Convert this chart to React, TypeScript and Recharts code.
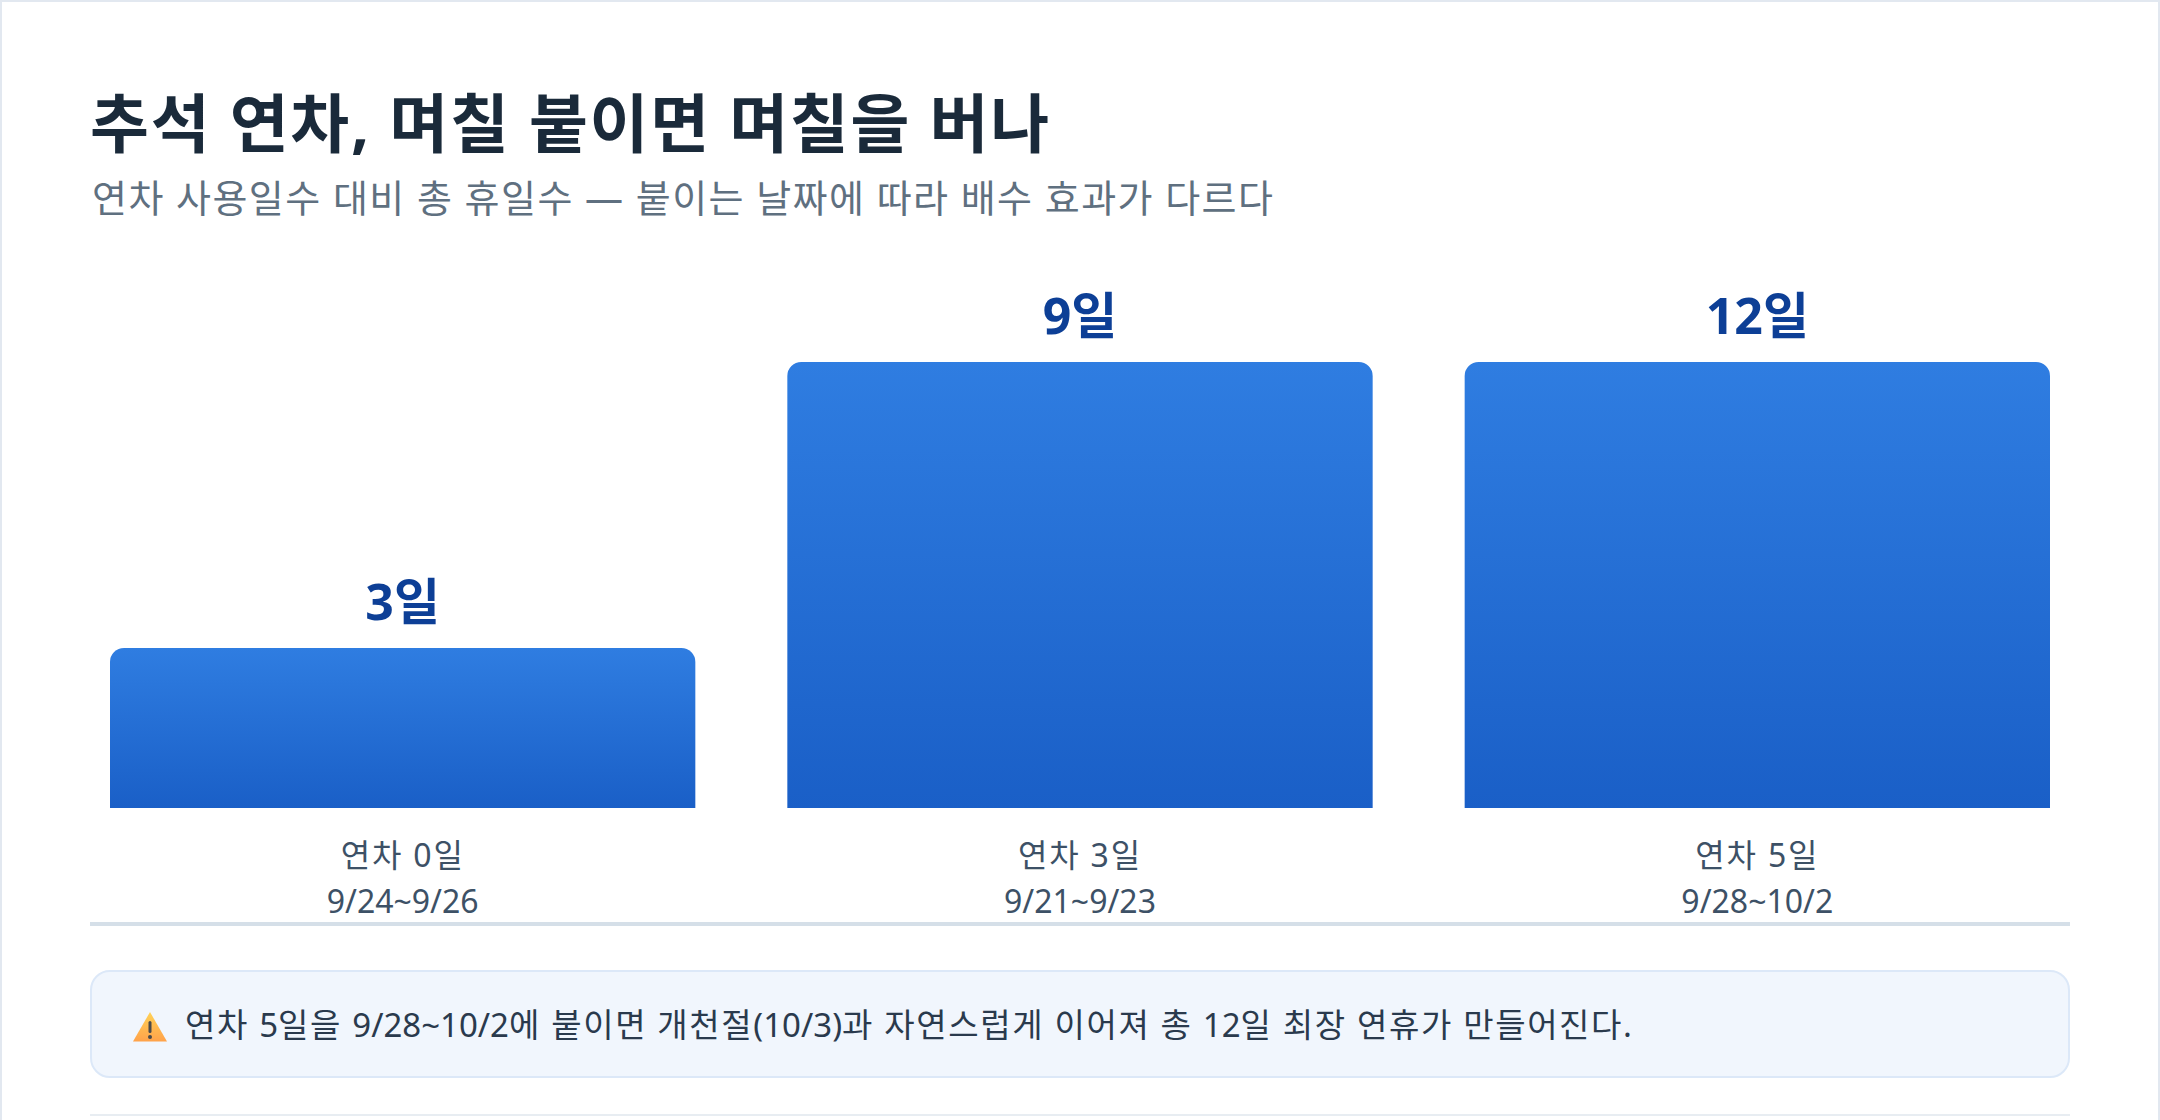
import { BarChart, Bar, XAxis, YAxis, LabelList } from "recharts";

const categories = ["연차 0일", "연차 3일", "연차 5일"];
const dateRanges = ["9/24~9/26", "9/21~9/23", "9/28~10/2"];
const totalDays = ["3일", "9일", "12일"];
// bar height, % of the tallest bar (not proportional to the days)
const barShare = [35.9, 100, 100];

const data = categories.map((name, i) => ({ name, range: dateRanges[i], days: totalDays[i], share: barShare[i] }));

const FONT = '"Noto Sans", "Noto Sans CJK KR", sans-serif';

function TwoLineTick({ x, y, index, payload }: any) {
  return (
    <text x={x} textAnchor="middle" fontFamily={FONT} fontSize={32} fill="#3d5166">
      <tspan x={x} y={y + 51} letterSpacing={1.8}>{payload.value}</tspan>
      <tspan x={x} y={y + 97}>{dateRanges[index]}</tspan>
    </text>
  );
}

// digits sit tighter than the hangul in the note line
const Num = ({ children }: any) => <span style={{ letterSpacing: 0 }}>{children}</span>;

export default function App() {
  return (
    <div style={{ position: "absolute", left: 0, top: 0, width: 2160, height: 1120, overflow: "hidden", background: "#fff", fontFamily: FONT }}>
      <div style={{ position: "absolute", left: 0, top: 0, width: 2156, height: 1200, border: "2px solid #e2e8f0" }} />
      <div style={{ position: "absolute", left: 90, top: 73, fontSize: 64, fontWeight: 700, color: "#1a2a3a", letterSpacing: 1.75, whiteSpace: "nowrap" }}>
        추석 연차, 며칠 붙이면 며칠을 버나
      </div>
      <div style={{ position: "absolute", left: 92, top: 168, fontSize: 38, color: "#5f7080", letterSpacing: 1.42, whiteSpace: "nowrap" }}>
        연차 사용일수 대비 총 휴일수 — 붙이는 날짜에 따라 배수 효과가 다르다
      </div>

      <div style={{ position: "absolute", left: 0, top: 250 }}>
        <BarChart width={2160} height={672} data={data} margin={{ top: 112, right: 64, left: 64, bottom: 0 }} barSize={585.33}>
          <defs>
            <linearGradient id="barFill" x1="0" y1="0" x2="0" y2="1">
              <stop offset="0%" stopColor="#2f7de1" />
              <stop offset="100%" stopColor="#1a5fc7" />
            </linearGradient>
          </defs>
          <XAxis dataKey="name" axisLine={false} tickLine={false} height={114} interval={0} tick={<TwoLineTick />} />
          <YAxis hide domain={[0, 100]} />
          <Bar dataKey="share" fill="url(#barFill)" radius={[14, 14, 0, 0]} isAnimationActive={false}>
            <LabelList dataKey="days" position="top" offset={28} fontFamily={FONT} fontSize={50} fontWeight={700} fill="#0d3f96" />
          </Bar>
        </BarChart>
      </div>

      <div style={{ position: "absolute", left: 90, top: 922, width: 1980, height: 4, background: "#d5dfe8" }} />

      <div style={{ position: "absolute", left: 90, top: 970, width: 1976, height: 104, border: "2px solid #dce8f8", borderRadius: 20, background: "#f1f6fd" }} />
      <svg style={{ position: "absolute", left: 132, top: 1012 }} width={36} height={32} viewBox="0 0 36 32">
        <defs>
          <linearGradient id="warnFill" x1="0" y1="0" x2="0" y2="1">
            <stop offset="0%" stopColor="#ffd257" />
            <stop offset="100%" stopColor="#ffa24a" />
          </linearGradient>
        </defs>
        <path d="M18 0 L35 29.5 L1 29.5 Z" fill="url(#warnFill)" />
        <rect x="16.5" y="9" width="3" height="12" rx="1.5" fill="#4a4a4a" />
        <circle cx="18" cy="25" r="2" fill="#4a4a4a" />
      </svg>
      <div style={{ position: "absolute", left: 185, top: 999, fontSize: 33, color: "#2a3a4d", letterSpacing: 1.63, whiteSpace: "nowrap" }}>
        연차 <Num>5</Num>일을 <Num>9/28~10/2</Num>에 붙이면 개천절<Num>(10/3)</Num>과 자연스럽게 이어져 총 <Num>12</Num>일 최장 연휴가 만들어진다<Num>.</Num>
      </div>

      <div style={{ position: "absolute", left: 90, top: 1114, width: 1980, height: 2, background: "#e8edf2" }} />
    </div>
  );
}
